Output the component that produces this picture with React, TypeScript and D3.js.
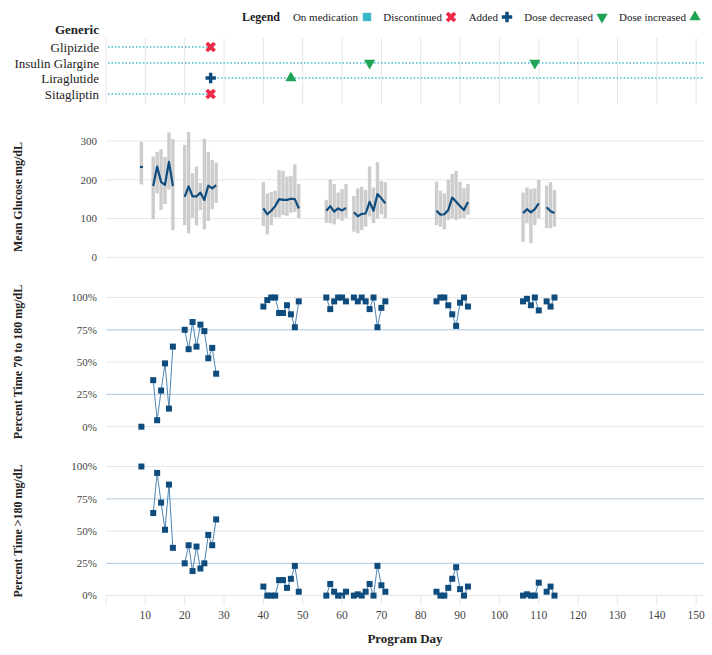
import React from "react";
import * as d3 from "d3";

// ---------- DATA ----------
const days = [9, 12, 13, 14, 15, 16, 17, 20, 21, 22, 23, 24, 25, 26, 27, 28, 40, 41, 42, 43, 44, 45, 46, 47, 48, 49, 56, 57, 58, 59, 60, 61, 63, 64, 65, 66, 67, 68, 69, 70, 71, 84, 85, 86, 87, 88, 89, 90, 91, 92, 106, 107, 108, 109, 110, 112, 113, 114];

const glucoseMean = [233, 184, 234, 194, 187, 246, 184, 156, 183, 157, 157, 167, 148, 185, 178, 186, 126, 111, 120, 132, 150, 148, 148, 151, 150, 126, 120, 132, 118, 126, 121, 127, 116, 106, 112, 113, 143, 120, 163, 152, 139, 120, 110, 111, 122, 154, 143, 132, 122, 143, 114, 124, 116, 124, 139, 129, 119, 114];
const glucoseLow = [188, 98, 165, 122, 137, 175, 70, 83, 62, 102, 82, 122, 72, 94, 124, 140, 81, 59, 83, 103, 103, 109, 107, 115, 117, 101, 89, 88, 85, 98, 94, 102, 66, 62, 70, 79, 105, 88, 100, 111, 101, 83, 79, 72, 96, 100, 96, 100, 101, 110, 40, 88, 36, 83, 100, 75, 75, 79];
const glucoseHigh = [298, 260, 272, 279, 259, 322, 305, 290, 323, 217, 234, 192, 306, 272, 251, 244, 194, 165, 169, 172, 225, 223, 208, 210, 240, 189, 148, 201, 189, 167, 176, 189, 158, 178, 182, 174, 234, 180, 245, 197, 194, 195, 172, 165, 200, 215, 223, 195, 178, 189, 167, 180, 176, 178, 200, 185, 194, 174];

const pctInRange = [0, 36, 5, 28, 49, 14, 62, 75, 60, 81, 62, 79, 74, 53, 61, 41, 93, 98, 100, 100, 88, 88, 94, 87, 77, 97, 100, 91, 97, 100, 100, 97, 100, 97, 100, 97, 91, 100, 77, 92, 97, 97, 100, 100, 94, 87, 78, 96, 100, 93, 97, 99, 94, 100, 90, 97, 93, 100];
const pctAbove = [100, 64, 95, 72, 51, 86, 37, 25, 39, 19, 38, 21, 25, 47, 39, 59, 7, 0, 0, 0, 12, 12, 6, 13, 23, 3, 0, 9, 3, 0, 0, 3, 0, 1, 0, 3, 9, 0, 23, 8, 3, 3, 0, 0, 6, 13, 22, 5, 0, 7, 0, 1, 0, 0, 10, 3, 7, 0];

const medNames = ["Glipizide", "Insulin Glargine", "Liraglutide", "Sitagliptin"];
const medStart = [0.5, 0.5, 26.6, 0.5];
const medEnd = [26.6, 152, 152, 26.6];
const eventMed = [0, 1, 1, 2, 2, 3];
const eventDay = [26.6, 67, 109, 26.6, 47, 26.6];
const eventType = ["Discontinued", "Dose decreased", "Dose decreased", "Added", "Dose increased", "Discontinued"];

const legendLabels = ["On medication", "Discontinued", "Added", "Dose decreased", "Dose increased"];
const xTicks = [10, 20, 30, 40, 50, 60, 70, 80, 90, 100, 110, 120, 130, 140, 150];
const glucoseTicks = [0, 100, 200, 300];
const pctTicks = [0, 25, 50, 75, 100];

// ---------- STYLE ----------
const FONT = '"Liberation Serif", "Times New Roman", "DejaVu Serif", serif';
const DARK = "#0f4c7e";
const LINEBLUE = "#4f86b5";
const GRID = "#e6e6e6";
const REFGRID = "#bcd2e4";
const CYAN = "#3cbfd0";
const RED = "#ee2a48";
const GREEN = "#1fa456";
const BAR = "#cdcdcd";

const x = d3.scaleLinear().domain([0, 152]).range([106, 704]);
const medRowY = [47, 63, 78, 94];
const yGlu = d3.scaleLinear().domain([0, 300]).range([257.3, 141]);
const yIn = d3.scaleLinear().domain([0, 100]).range([426.7, 297.5]);
const yAb = d3.scaleLinear().domain([0, 100]).range([595.6, 466.5]);

function segments(): number[][] {
  const out: number[][] = [];
  let cur: number[] = [];
  days.forEach((d, i) => {
    if (i > 0 && d - days[i - 1] > 1) {
      out.push(cur);
      cur = [];
    }
    cur.push(i);
  });
  out.push(cur);
  return out;
}
const segs = segments();

function symbolPath(type: string): { d: string; fill: string; rot: number } {
  if (type === "Discontinued") return { d: d3.symbol(d3.symbolCross, 70)() as string, fill: RED, rot: 45 };
  if (type === "Added") return { d: d3.symbol(d3.symbolCross, 60)() as string, fill: DARK, rot: 0 };
  if (type === "Dose decreased") return { d: d3.symbol(d3.symbolTriangle, 55)() as string, fill: GREEN, rot: 180 };
  if (type === "Dose increased") return { d: d3.symbol(d3.symbolTriangle, 55)() as string, fill: GREEN, rot: 0 };
  return { d: d3.symbol(d3.symbolSquare, 70)() as string, fill: "#3ab7c9", rot: 0 };
}

const txt = { fontFamily: FONT };

function PctPanel({ vals, y, label, labelY }: { vals: number[]; y: d3.ScaleLinear<number, number>; label: string; labelY: number }) {
  const line = d3.line<number>().x((i) => x(days[i])).y((i) => y(vals[i]));
  return (
    <g>
      {pctTicks.map((t) => (
        <g key={t}>
          <line x1={x(0)} x2={x(152)} y1={y(t)} y2={y(t)} stroke={t === 25 || t === 75 ? REFGRID : GRID} strokeWidth={t === 25 || t === 75 ? 1.3 : 1} />
          <text style={txt} x={97} y={y(t)} dy="0.35em" textAnchor="end" fontSize={11} fill="#444">{t + "%"}</text>
        </g>
      ))}
      {segs.map((s, k) => (
        <path key={k} d={line(s) || ""} fill="none" stroke={LINEBLUE} strokeWidth={1} />
      ))}
      {days.map((d, i) => (
        <rect key={i} x={x(d) - 3} y={y(vals[i]) - 3} width={6} height={6} fill={DARK} />
      ))}
      <text style={txt} transform={`translate(22,${labelY}) rotate(-90)`} textAnchor="middle" fontSize={12} fontWeight="bold" fill="#222">{label}</text>
    </g>
  );
}

export default function App() {
  const meanLine = d3.line<number>().x((i) => x(days[i])).y((i) => yGlu(glucoseMean[i])).curve(d3.curveLinear);
  const legendSymX = [367, 451, 507, 602, 695];
  const legendTypes = ["On medication", "Discontinued", "Added", "Dose decreased", "Dose increased"];
  return (
    <svg width={712} height={655} style={{ position: "absolute", left: 0, top: 0, background: "#fff", fontFamily: FONT }}>
      {/* Legend */}
      <text style={txt} x={242} y={17} dy="0.35em" fontSize={12} fontWeight="bold" fill="#222">Legend</text>
      {legendLabels.map((l, i) => {
        const s = symbolPath(legendTypes[i]);
        return (
          <g key={l}>
            <text style={txt} x={legendSymX[i] - 9} y={17} dy="0.35em" textAnchor="end" fontSize={11} fill="#222">{l}</text>
            <path d={s.d} fill={s.fill} transform={`translate(${legendSymX[i]},${17}) rotate(${s.rot})`} />
          </g>
        );
      })}

      {/* Medication panel */}
      <text style={txt} x={99} y={29} dy="0.35em" textAnchor="end" fontSize={13} fontWeight="bold" fill="#222">Generic</text>
      {d3.range(0, 151, 10).map((t) => (
        <line key={t} x1={x(t)} x2={x(t)} y1={38} y2={104} stroke={GRID} strokeWidth={1} />
      ))}
      {medNames.map((m, i) => (
        <g key={m}>
          <text style={txt} x={99} y={medRowY[i]} dy="0.35em" textAnchor="end" fontSize={13} fill="#222">{m}</text>
          <line x1={x(medStart[i])} x2={x(medEnd[i])} y1={medRowY[i]} y2={medRowY[i]} stroke={CYAN} strokeWidth={1.5} strokeDasharray="1.5,2" />
        </g>
      ))}
      {eventDay.map((d, i) => {
        const s = symbolPath(eventType[i]);
        return <path key={i} d={s.d} fill={s.fill} transform={`translate(${x(d)},${medRowY[eventMed[i]]}) rotate(${s.rot})`} />;
      })}

      {/* Glucose panel */}
      {glucoseTicks.map((t) => (
        <g key={t}>
          <line x1={x(0)} x2={x(152)} y1={yGlu(t)} y2={yGlu(t)} stroke={GRID} strokeWidth={1} />
          <text style={txt} x={97} y={yGlu(t)} dy="0.35em" textAnchor="end" fontSize={11} fill="#444">{t}</text>
        </g>
      ))}
      {days.map((d, i) => (
        <rect key={i} x={x(d) - 1.7} y={yGlu(glucoseHigh[i])} width={3.4} height={yGlu(glucoseLow[i]) - yGlu(glucoseHigh[i])} fill={BAR} />
      ))}
      {segs.map((s, k) =>
        s.length > 1 ? (
          <path key={k} d={meanLine(s) || ""} fill="none" stroke={DARK} strokeWidth={2.2} strokeLinejoin="round" />
        ) : (
          <line key={k} x1={x(days[s[0]]) - 1.5} x2={x(days[s[0]]) + 1.5} y1={yGlu(glucoseMean[s[0]])} y2={yGlu(glucoseMean[s[0]])} stroke={DARK} strokeWidth={2.2} />
        )
      )}
      <text style={txt} transform={`translate(22,197) rotate(-90)`} textAnchor="middle" fontSize={12} fontWeight="bold" fill="#222">Mean Glucose mg/dL</text>

      <PctPanel vals={pctInRange} y={yIn} label="Percent Time 70 to 180 mg/dL" labelY={362} />
      <PctPanel vals={pctAbove} y={yAb} label="Percent Time >180 mg/dL" labelY={531} />

      {/* X axis */}
      {d3.range(0, 151, 10).map((t) => (
        <line key={t} x1={x(t)} x2={x(t)} y1={595.6} y2={605} stroke={GRID} strokeWidth={1} />
      ))}
      {xTicks.map((t) => (
        <text style={txt} key={t} x={x(t)} y={615} dy="0.35em" textAnchor="middle" fontSize={11.5} fill="#444">{t}</text>
      ))}
      <text style={txt} x={405} y={638} dy="0.35em" textAnchor="middle" fontSize={13} fontWeight="bold" fill="#222">Program Day</text>
    </svg>
  );
}
